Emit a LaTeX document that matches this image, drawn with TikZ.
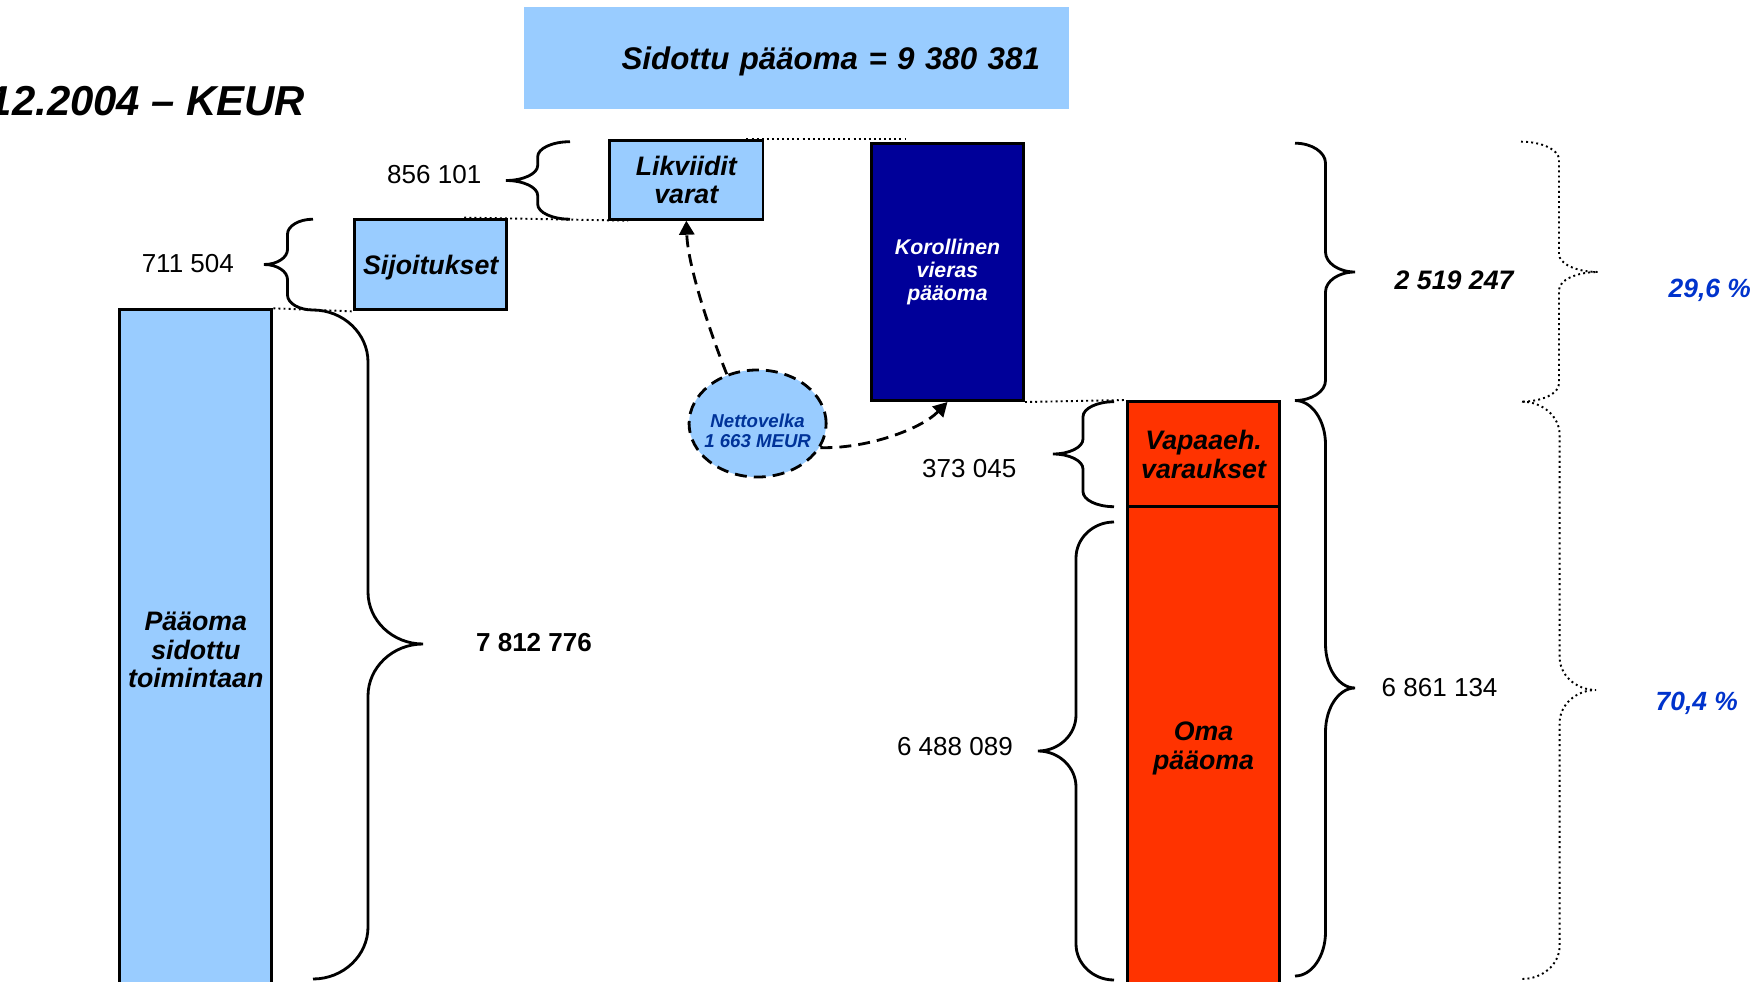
\documentclass[tikz,border=0pt]{standalone}
\usepackage{fontspec}
\setmainfont{Liberation Sans}
\usetikzlibrary{arrows.meta,shapes.geometric,calc}

\definecolor{paleblue}{HTML}{99CCFF}
\definecolor{navyblue}{HTML}{000099}
\definecolor{signalred}{HTML}{FF3300}
\definecolor{pctblue}{HTML}{0033CC}
\definecolor{debtblue}{HTML}{003399}

\tikzset{
  bar/.style={draw=black, line width=0.85pt, minimum width=1.52cm, inner sep=0pt, align=center,
    font=\fontsize{7.6}{8.1}\selectfont\bfseries\itshape},
  bracestyle/.style={line width=0.8pt, black},
  dotline/.style={line width=0.55pt, dash pattern=on 0.55pt off 0.9pt},
  dashline/.style={line width=0.8pt, dash pattern=on 3.4pt off 2pt},
  amount/.style={inner sep=0pt, font=\fontsize{7.4}{9}\selectfont},
  share/.style={inner sep=0pt, text=pctblue, font=\fontsize{7.5}{9}\selectfont\bfseries\itshape},
}

% vertical curly brace: [opts]{end x}{body x}{tip x}{top y}{mid y}{bottom y}{curve}
\newcommand{\curlybrace}[8][]{%
  \draw[bracestyle,#1] (#2,#5)
    .. controls ({#2+0.55*(#3-#2)},#5) and (#3,{#5+0.45*#8}) .. (#3,#5+#8)
    -- (#3,#6-#8)
    .. controls (#3,{#6-0.45*#8}) and ({#3+0.45*(#4-#3)},#6) .. (#4,#6)
    .. controls ({#3+0.45*(#4-#3)},#6) and (#3,{#6+0.45*#8}) .. (#3,#6+#8)
    -- (#3,#7-#8)
    .. controls (#3,{#7-0.45*#8}) and ({#2+0.55*(#3-#2)},#7) .. (#2,#7);}

\begin{document}
\begin{tikzpicture}[x=0.01cm, y=-0.01cm]
  \useasboundingbox (0,0) rectangle (1754,982);

  % Titles
  \node[fill=paleblue, minimum width=5.45cm, minimum height=1.02cm, text width=4.87cm, inner xsep=0.29cm,
    align=right, text depth=0pt, font=\fontsize{8.9}{11}\selectfont\bfseries\itshape] (sum) at (796.3,58.3) {Sidottu pääoma = 9 380 381};
  \node[anchor=base east, inner sep=0pt, font=\fontsize{11.9}{14}\selectfont\bfseries\itshape] (date) at (306,116) {12.2004 – KEUR};

  % Assets
  \node[bar, fill=paleblue, minimum height=6.80cm] (toim) at (195.8,650) {Pääoma\\sidottu\\toimintaan};
  \node[bar, fill=paleblue, minimum height=0.907cm, text depth=0pt] (sij) at (430.7,264.5) {Sijoitukset};
  \node[bar, fill=paleblue, minimum height=0.783cm, minimum width=1.533cm] (liq) at (686.3,180) {Likviidit\\varat};

  % Liabilities
  \node[bar, fill=navyblue, text=white, minimum height=2.573cm,
    font=\fontsize{6.05}{6.5}\selectfont\bfseries\itshape] (kvp) at (947.5,271.8) {Korollinen\\vieras\\pääoma};
  \node[bar, fill=signalred, minimum height=1.062cm] (vap) at (1203.6,454.6) {Vapaaeh.\\varaukset};
  \node[bar, fill=signalred, minimum height=4.833cm] (oma) at (1203.6,748.3) {Oma\\pääoma};

  % Net debt
  \node[ellipse, draw=black, dashline, fill=paleblue, minimum width=1.37cm, minimum height=1.07cm, inner sep=0pt] (nv) at (757.6,423.5) {};
  \node[align=center, inner sep=0pt, text=debtblue, font=\fontsize{5.3}{5.7}\selectfont\bfseries\itshape] (nvtext) at (757.6,431) {Nettovelka\\1 663 MEUR};
  \draw[dashline, -{Triangle[length=4pt,width=4.3pt]}] (nv.122) .. controls (715,345) and (688,270) .. (liq.south);
  \draw[dashline, -{Triangle[length=4pt,width=4.3pt]}] (nv.-21) .. controls (865,449) and (920,430) .. (kvp.south);

  % Level lines
  \draw[dotline] (toim.north east) -- (sij.south west);
  \draw[dotline] ($(sij.north east)+(-44,0)$) -- ($(liq.south west)+(20,0)$);
  \draw[dotline] ($(liq.north east)+(-18,0)$) -- ($(liq.north east -| kvp.north west)+(35,0)$);
  \draw[dotline] (kvp.south east) -- (vap.north west);

  % Braces and amounts, assets
  \curlybrace{570}{537.7}{506}{141.7}{180.5}{219.2}{15}
  \node[amount, anchor=east] (a856) at (482,174.5) {856 101};
  \curlybrace{313}{287.5}{264}{219.2}{264.5}{310}{15}
  \node[amount, anchor=east] (a711) at (234.6,264) {711 504};
  \curlybrace{313}{368}{423}{310}{644}{979}{52}
  \node[amount, anchor=west, font=\fontsize{7.4}{9}\selectfont\bfseries] (a781) at (475.4,643) {7 812 776};

  % Braces and amounts, liabilities
  \curlybrace{1295}{1325.5}{1355}{143.2}{272}{400.5}{20}
  \node[amount, anchor=west, font=\fontsize{7.6}{9}\selectfont\bfseries\itshape] (a251) at (1394,280) {2 519 247};
  \curlybrace{1114}{1083}{1053}{401.7}{454}{506.7}{15}
  \node[amount, anchor=east] (a373) at (1017,469) {373 045};
  \curlybrace{1114}{1076}{1038}{522}{751}{980}{36}
  \node[amount, anchor=east] (a648) at (1013.5,747) {6 488 089};
  \curlybrace{1295}{1325.5}{1355}{400.5}{688}{976}{44}
  \node[amount, anchor=west] (a686) at (1381,688) {6 861 134};

  % Shares
  \curlybrace[dotline]{1521}{1559}{1598}{141.7}{272}{401.7}{18}
  \node[share, anchor=west] (p296) at (1668,290) {29,6 \%};
  \curlybrace[dotline]{1522}{1559.6}{1596}{401.7}{690}{979}{33}
  \node[share, anchor=west] (p704) at (1655,703) {70,4 \%};

\end{tikzpicture}
\end{document}
